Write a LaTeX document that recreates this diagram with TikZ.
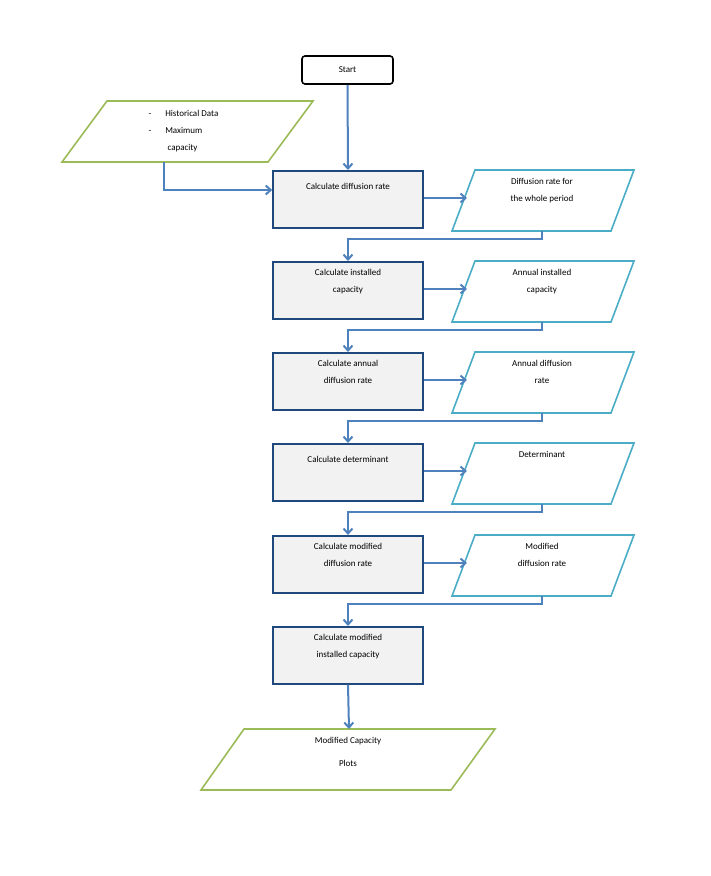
\documentclass[tikz,border=0pt]{standalone}
\usepackage{fontspec}
\setmainfont{Carlito}
\usetikzlibrary{arrows.meta}
\definecolor{arr}{RGB}{79,129,189}
\definecolor{bord}{RGB}{31,73,125}
\definecolor{cy}{RGB}{75,172,198}
\definecolor{gr}{RGB}{155,187,89}
\tikzset{
 proc/.style={draw=bord,line width=1.6pt,fill=black!5,minimum width=150pt,minimum height=57pt,anchor=north,inner sep=0pt},
 outp/.style={draw=cy,line width=1.6pt},
 inp/.style={draw=gr,line width=1.6pt},
 lbl/.style={font=\fontsize{9}{17}\selectfont,align=center},
 conn/.style={draw=arr,line width=2pt,-{Straight Barb[length=5pt,width=9pt]}}
}
\begin{document}
\begin{tikzpicture}[x=1pt,y=-1pt]
\useasboundingbox (0,0) rectangle (711,876);
% start
\node[draw=black,line width=1.6pt,rounded corners=3pt,minimum width=91pt,minimum height=28pt] (start) at (347.5,70) {\fontsize{9}{11}\selectfont Start};
% input
\draw[inp] (107,101) -- (313,101) -- (268,162) -- (62,162) -- cycle;
\node[lbl,align=left,anchor=north west] (in) at (145,107) {-\hspace{14pt}Historical Data\\-\hspace{14pt}Maximum\\\hspace{19pt}capacity};
\coordinate (inb) at (164,162);
% process boxes
\node[proc] (b1) at (348,170) {};
\node[lbl,anchor=north] at (348,180) {Calculate diffusion rate};
\node[proc] (b2) at (348,261) {};
\node[lbl,anchor=north] at (348,266) {Calculate installed\\capacity};
\node[proc] (b3) at (348,352) {};
\node[lbl,anchor=north] at (348,357) {Calculate annual\\diffusion rate};
\node[proc] (b4) at (348,443) {};
\node[lbl,anchor=north] at (348,453) {Calculate determinant};
\node[proc] (b5) at (348,535) {};
\node[lbl,anchor=north] at (348,540) {Calculate modified\\diffusion rate};
\node[proc] (b6) at (348,626) {};
\node[lbl,anchor=north] at (348,631) {Calculate modified\\installed capacity};
% output paras
\foreach \t/\txt/\n in {170/{Diffusion rate for\\the whole period}/o1, 261/{Annual installed\\capacity}/o2, 352/{Annual diffusion\\rate}/o3, 443/{Determinant}/o4, 535/{Modified\\diffusion rate}/o5}{
  \draw[outp] (475,\t) -- (634,\t) -- (611,\t+61) -- (452,\t+61) -- cycle;
  \node[lbl,anchor=north] (\n) at (542,\t+5) {\txt};
  \coordinate (\n l) at (467,\t+28);
  \coordinate (\n b) at (542,\t+61);
}
\node[lbl,anchor=north] at (542,458) {};
% final output
\draw[inp] (244,729) -- (495,729) -- (451,790) -- (201,790) -- cycle;
\node[lbl,anchor=north] (fin) at (348,734) {Modified Capacity\\[6pt]Plots};
\coordinate (fint) at (349,729);
% connectors
\draw[conn] (start.south) -- (b1.north);
\draw[conn] (inb) |- ([yshift=0pt]b1.west |- 0,190);
\foreach \b/\o in {b1/o1,b2/o2,b3/o3,b4/o4,b5/o5}{
  \draw[conn] (\b.east |- \o l) -- (\o l);
}
\foreach \o/\nb in {o1/b2,o2/b3,o3/b4,o4/b5,o5/b6}{
  \draw[conn] (\o b) -- ++(0,8) -| (\nb.north);
}
\draw[conn] (b6.south) -- (fint);
\end{tikzpicture}
\end{document}
